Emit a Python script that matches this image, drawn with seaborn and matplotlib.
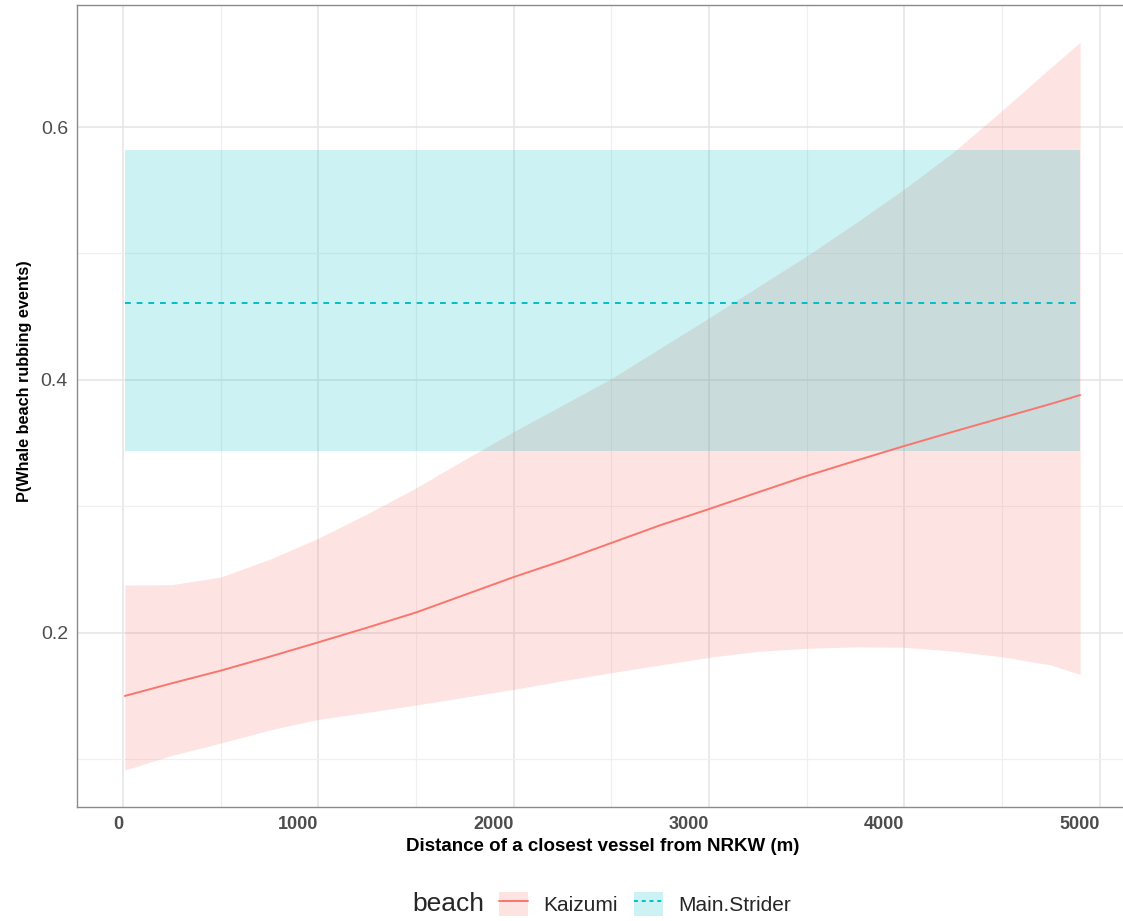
import matplotlib
matplotlib.use("Agg")
import matplotlib.pyplot as plt
import seaborn as sns
import pandas as pd
from matplotlib.patches import Patch
from matplotlib.lines import Line2D

# predicted probability with confidence band
dist = [10, 250, 500, 750, 1000, 1250, 1500, 1750, 2000, 2250, 2500,
        2750, 3000, 3250, 3500, 3750, 4000, 4250, 4500, 4750, 4900]
kai_fit = [0.150, 0.160, 0.170, 0.181, 0.1924, 0.204, 0.216, 0.230, 0.244, 0.257, 0.271,
           0.285, 0.2978, 0.311, 0.324, 0.336, 0.3477, 0.359, 0.370, 0.381, 0.388]
kai_lo = [0.0914, 0.103, 0.1127, 0.123, 0.1315, 0.137, 0.1428, 0.149, 0.1552, 0.162, 0.1684,
          0.1745, 0.1805, 0.1853, 0.1877, 0.1888, 0.1885, 0.1855, 0.181, 0.1745, 0.167]
kai_hi = [0.2377, 0.238, 0.244, 0.258, 0.2747, 0.294, 0.3145, 0.337, 0.359, 0.380, 0.401,
          0.425, 0.449, 0.4735, 0.498, 0.524, 0.551, 0.580, 0.613, 0.647, 0.667]
ms_fit = 0.461
ms_lo = 0.3437
ms_hi = 0.582

beaches = ["Kaizumi", "Main.Strider"]
colors = {"Kaizumi": "#F8766D", "Main.Strider": "#00BFC4"}

df = pd.DataFrame({
    "dist": dist * 2,
    "fit": kai_fit + [ms_fit] * len(dist),
    "lo": kai_lo + [ms_lo] * len(dist),
    "hi": kai_hi + [ms_hi] * len(dist),
    "beach": ["Kaizumi"] * len(dist) + ["Main.Strider"] * len(dist),
})

sns.set_theme(style="whitegrid")
plt.rcParams["font.family"] = ["Liberation Sans", "DejaVu Sans"]

fig = plt.figure(figsize=(11.23, 9.21), dpi=100)
ax = fig.add_axes([77 / 1123, 1 - 806.7 / 921, 1051 / 1123, (806.7 - 5) / 921])

band_alpha = 0.2
for b in beaches:
    d = df[df["beach"] == b]
    ax.fill_between(d["dist"], d["lo"], d["hi"], color=colors[b], alpha=band_alpha,
                    linewidth=0, zorder=2)

sns.lineplot(data=df, x="dist", y="fit", hue="beach", style="beach",
             palette=colors, dashes={"Kaizumi": "", "Main.Strider": (3, 3)},
             linewidth=1.4, legend=False, ax=ax, zorder=3)

ax.set_xlim(-235, 5145)
ax.set_ylim(0.0624, 0.6965)
ax.set_xticks([0, 1000, 2000, 3000, 4000, 5000])
ax.set_xticks([500, 1500, 2500, 3500, 4500], minor=True)
ax.set_yticks([0.2, 0.4, 0.6])
ax.set_yticks([0.1, 0.3, 0.5], minor=True)
ax.set_yticklabels(["0.2", "0.4", "0.6"])

ax.grid(which="major", color="#E6E6E6", linewidth=1.2, zorder=0)
ax.grid(which="minor", color="#F0F0F0", linewidth=0.9, zorder=0)
ax.set_axisbelow(True)
ax.set_facecolor("white")
for s in ax.spines.values():
    s.set_color("#8a8a8a")
    s.set_linewidth(1.0)

ax.tick_params(axis="both", which="major", length=3.5, width=1.0, color="#333333",
               labelcolor="#4D4D4D", pad=3)
ax.tick_params(axis="both", which="minor", length=0)
ax.tick_params(axis="y", labelsize=14)
ax.tick_params(axis="x", labelsize=13)
for t in ax.get_xticklabels():
    t.set_fontweight("bold")
    t.set_horizontalalignment("right")

ax.set_xlabel("Distance of a closest vessel from NRKW (m)", fontsize=13.5,
              fontweight="bold", color="black", labelpad=4)
ax.set_ylabel("P(Whale beach rubbing events)", fontsize=11.7,
              fontweight="bold", color="black")
ax.yaxis.set_label_coords(-0.043, 0.531)

# legend at the bottom, title on the left
handles = []
for b in beaches:
    ls = "-" if b == "Kaizumi" else (0, (2, 2))
    handles.append((Patch(facecolor=colors[b], alpha=band_alpha, edgecolor="none"),
                    Line2D([], [], color=colors[b], linewidth=1.4, linestyle=ls)))
fig.text(412 / 1123, 1 - 904 / 921, "beach", fontsize=19, va="center", ha="left")
fig.legend(handles, beaches, loc="center left", bbox_to_anchor=(499 / 1123, 1 - 904 / 921),
           ncol=2, frameon=False, fontsize=15, handlelength=1.4, handleheight=1.4,
           handletextpad=0.72, columnspacing=0.77, borderaxespad=0, borderpad=0)

fig.savefig("out.png", dpi=100)
